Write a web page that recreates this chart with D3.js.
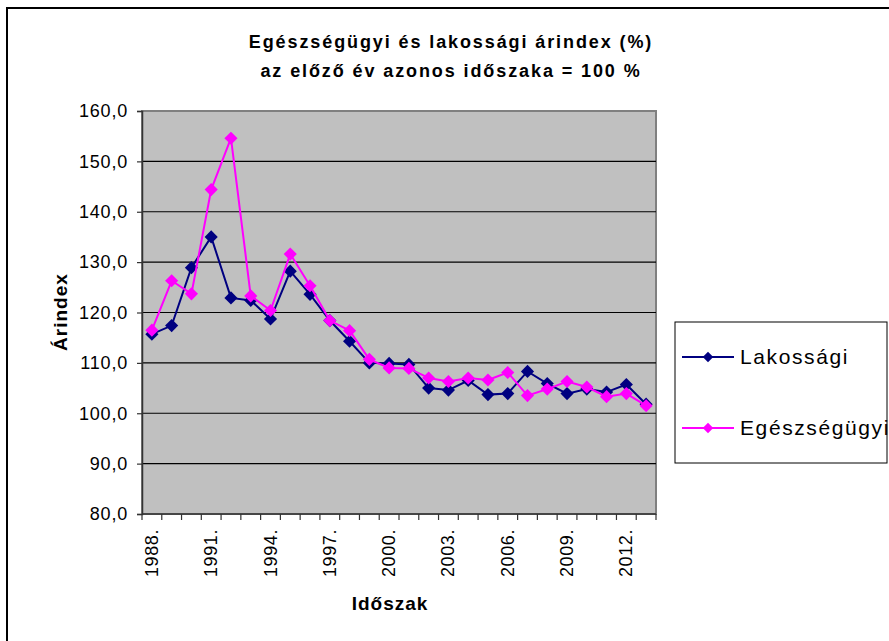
<!DOCTYPE html>
<html>
<head>
<meta charset="utf-8">
<script src="https://cdn.jsdelivr.net/npm/d3@7"></script>
<style>
  body { margin: 0; background: #fff; }
  svg { display: block; font-family: "Liberation Sans", Arial, sans-serif; }
</style>
</head>
<body>
<div class="container"></div>
<script>
// data
const years = d3.range(1988, 2014);
const tickYears = [1988, 1991, 1994, 1997, 2000, 2003, 2006, 2009, 2012];
const lakossagi = [115.7, 117.4, 128.9, 135.0, 122.9, 122.4, 118.7, 128.2, 123.6, 118.4,
  114.3, 110.0, 109.9, 109.7, 105.0, 104.6, 106.5, 103.7, 103.9, 108.3,
  105.9, 103.9, 104.8, 104.2, 105.7, 101.8];
const egeszsegugyi = [116.5, 126.3, 123.7, 144.4, 154.6, 123.3, 120.4, 131.6, 125.3, 118.4,
  116.4, 110.7, 109.0, 108.9, 107.0, 106.3, 107.0, 106.6, 108.1, 103.5,
  104.8, 106.3, 105.2, 103.3, 103.9, 101.5];
const yTicks = [80, 90, 100, 110, 120, 130, 140, 150, 160];
const seriesNames = ["Lakossági", "Egészségügyi"];
const colors = ["#000080", "#ff00ff"];

const width = 889, height = 641;
const plot = { left: 142, top: 111, right: 656, bottom: 514 };

const svg = d3.select(".container").append("svg")
  .attr("width", width)
  .attr("height", height);

// outer chart frame
svg.append("rect")
  .attr("x", 7).attr("y", 8)
  .attr("width", width + 10).attr("height", height + 10)
  .attr("fill", "#fff")
  .attr("stroke", "#000")
  .attr("stroke-width", 2);

const x = d3.scaleBand().domain(years).range([plot.left, plot.right]).padding(0);
const y = d3.scaleLinear().domain([80, 160]).range([plot.bottom, plot.top]);
const cx = (d) => x(d) + x.bandwidth() / 2;

// plot area
svg.append("rect")
  .attr("x", plot.left).attr("y", plot.top)
  .attr("width", plot.right - plot.left).attr("height", plot.bottom - plot.top)
  .attr("fill", "#c0c0c0")
  .attr("stroke", "#808080")
  .attr("stroke-width", 2);

// gridlines
svg.append("g")
  .selectAll("line")
  .data(yTicks.filter((d) => d > 80 && d < 160))
  .join("line")
  .attr("x1", plot.left).attr("x2", plot.right)
  .attr("y1", (d) => y(d)).attr("y2", (d) => y(d))
  .attr("stroke", "#000")
  .attr("stroke-width", 1.2);

// y axis
const yAxis = svg.append("g")
  .attr("transform", `translate(${plot.left},0)`)
  .call(d3.axisLeft(y).tickValues(yTicks).tickSize(5).tickPadding(9)
    .tickFormat((d) => d.toFixed(1).replace(".", ",")));
yAxis.select(".domain").attr("stroke", "#333").attr("stroke-width", 1.5);
yAxis.selectAll(".tick line").attr("stroke", "#333").attr("stroke-width", 1.2);
yAxis.selectAll("text")
  .attr("fill", "#000")
  .style("font-size", "18px")
  .style("letter-spacing", "0.8px");

// x axis: ticks at category boundaries, labels every third year
const xg = svg.append("g");
xg.append("line")
  .attr("x1", plot.left).attr("x2", plot.right)
  .attr("y1", plot.bottom).attr("y2", plot.bottom)
  .attr("stroke", "#333").attr("stroke-width", 1.5);
xg.selectAll("line.tk")
  .data(years.concat([null]))
  .join("line")
  .attr("class", "tk")
  .attr("x1", (d) => d === null ? plot.right : x(d))
  .attr("x2", (d) => d === null ? plot.right : x(d))
  .attr("y1", plot.bottom).attr("y2", plot.bottom + 6)
  .attr("stroke", "#333").attr("stroke-width", 1.2);
xg.selectAll("text")
  .data(tickYears)
  .join("text")
  .attr("transform", (d) => `translate(${cx(d) + 6},${plot.bottom + 15}) rotate(-90)`)
  .attr("text-anchor", "end")
  .style("font-size", "18px")
  .style("letter-spacing", "0.6px")
  .text((d) => d + ".");

// axis titles
svg.append("text")
  .attr("x", 390).attr("y", 610)
  .attr("text-anchor", "middle")
  .style("font-size", "19px").style("font-weight", "bold")
  .style("letter-spacing", "1px")
  .text("Időszak");
svg.append("text")
  .attr("transform", `translate(67,312) rotate(-90)`)
  .attr("text-anchor", "middle")
  .style("font-size", "19px").style("font-weight", "bold")
  .style("letter-spacing", "1px")
  .text("Árindex");

// title
const title = svg.append("text")
  .attr("text-anchor", "middle")
  .style("font-size", "18px").style("font-weight", "bold")
  .style("letter-spacing", "1.9px");
title.append("tspan").attr("x", 451).attr("y", 48).text("Egészségügyi és lakossági árindex (%)");
title.append("tspan").attr("x", 451).attr("y", 77).text("az előző év azonos időszaka = 100 %");

// series
const line = d3.line().x((d, i) => cx(years[i])).y((d) => y(d));
const diamond = d3.symbol().type(d3.symbolDiamond2).size(110);

[lakossagi, egeszsegugyi].forEach((vals, k) => {
  svg.append("path")
    .datum(vals)
    .attr("fill", "none")
    .attr("stroke", colors[k])
    .attr("stroke-width", 2)
    .attr("d", line);
  svg.append("g")
    .selectAll("path")
    .data(vals)
    .join("path")
    .attr("transform", (d, i) => `translate(${cx(years[i])},${y(d)})`)
    .attr("d", diamond)
    .attr("fill", colors[k]);
});

// legend
const lg = svg.append("g");
lg.append("rect")
  .attr("x", 675).attr("y", 322)
  .attr("width", 212).attr("height", 141)
  .attr("fill", "#fff")
  .attr("stroke", "#000")
  .attr("stroke-width", 1);
const items = lg.selectAll("g.item")
  .data(seriesNames)
  .join("g")
  .attr("class", "item")
  .attr("transform", (d, i) => `translate(0,${357 + i * 71})`);
items.append("line")
  .attr("x1", 682).attr("x2", 734)
  .attr("stroke", (d, i) => colors[i])
  .attr("stroke-width", 2);
items.append("path")
  .attr("transform", "translate(708,0)")
  .attr("d", d3.symbol().type(d3.symbolDiamond2).size(70))
  .attr("fill", (d, i) => colors[i]);
items.append("text")
  .attr("x", 740).attr("y", 7)
  .style("font-size", "21px")
  .style("letter-spacing", "1.6px")
  .text((d) => d);
</script>
</body>
</html>
